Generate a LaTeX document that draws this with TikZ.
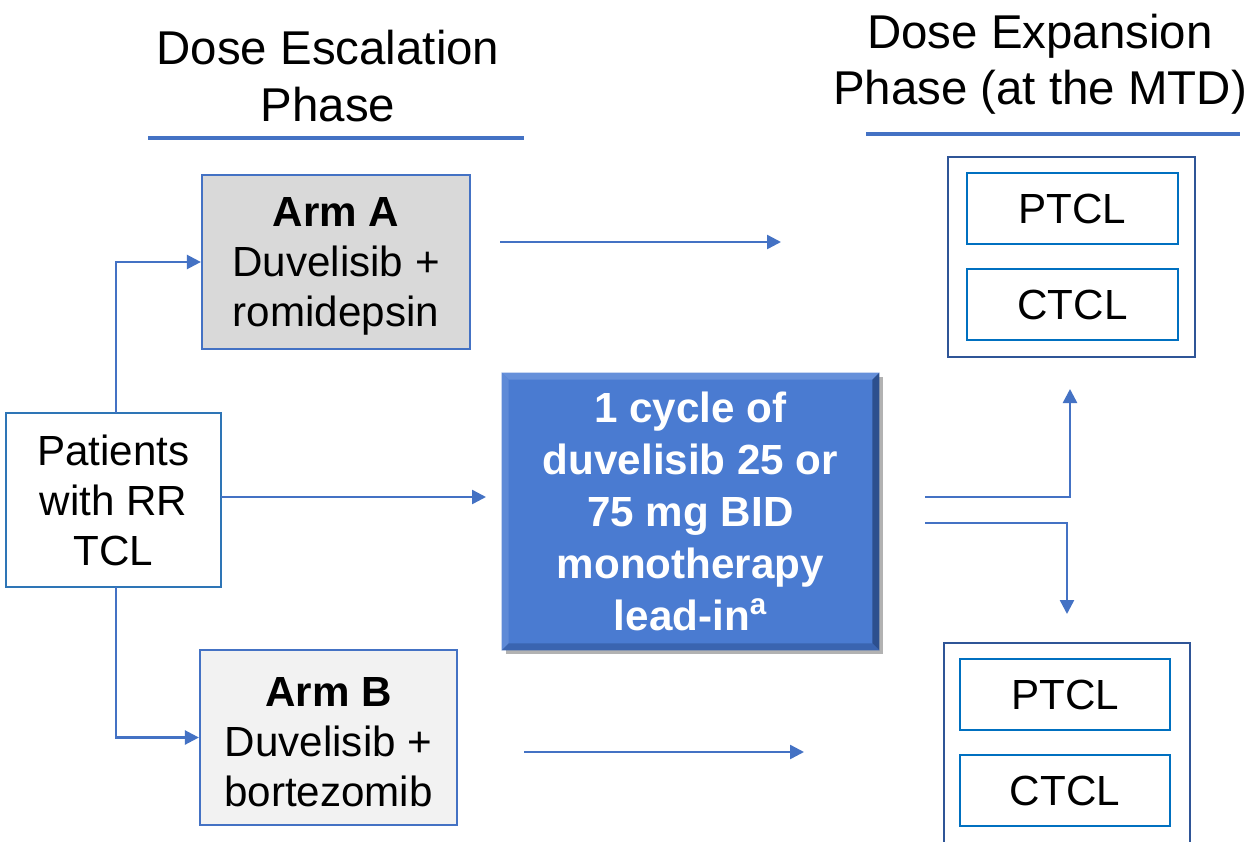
\documentclass[tikz,border=0pt]{standalone}
\usepackage{fontspec}
\setmainfont{Liberation Sans}
\usetikzlibrary{arrows.meta}
\definecolor{lb}{HTML}{4472C4}
\definecolor{grayA}{HTML}{D9D9D9}
\definecolor{grayB}{HTML}{F2F2F2}
\definecolor{patb}{HTML}{2E75B6}
\definecolor{outb}{HTML}{2F5597}
\definecolor{inb}{HTML}{0070C0}
\definecolor{ctrfill}{HTML}{4A7BD1}
\definecolor{bevlight}{HTML}{6690DA}
\definecolor{bevdark}{HTML}{2C4F8E}
\definecolor{bevbot}{HTML}{3A64B0}
\tikzset{
  box/.style={draw=lb, line width=1.3pt, align=center, inner sep=0pt,
    font=\fontsize{24}{28.5}\selectfont},
  outbox/.style={draw=outb, line width=1.6pt, inner sep=0pt},
  inbox/.style={draw=inb, line width=1.1pt, inner sep=0pt, align=center,
    font=\fontsize{24}{28.5}\selectfont},
  head/.style={align=center, font=\fontsize{27}{32}\selectfont},
  uline/.style={draw=lb, line width=1.9pt},
  arr/.style={draw=lb, line width=1.4pt, -{Triangle[length=0.28cm,width=0.28cm]}},
  ctrbox/.style={fill=ctrfill, align=center, inner sep=0pt, text=white,
    font=\fontsize{24}{29.6}\selectfont\bfseries}
}
\newcommand{\topstrut}{\rule{0pt}{21.5pt}}
\begin{document}
\begin{tikzpicture}[x=0.02cm,y=-0.02cm]
\clip (0,0) rectangle (1252,842);
\fill[white] (0,0) rectangle (1252,842);

% headings
\node[head] (h1) at (328,76) {Dose Escalation\\Phase};
\node[head] (h2) at (1040,64) {Dose Expansion\\Phase (at the MTD)};
\coordinate (u1a) at (148,138); \coordinate (u1b) at (524,138);
\coordinate (u2a) at (866,134); \coordinate (u2b) at (1240,134);
\draw[uline] (u1a) -- (u1b);
\draw[uline] (u2a) -- (u2b);

% left boxes
\node[box, fill=grayA, minimum width=5.36cm, minimum height=3.48cm] (armA) at (336,262)
  {\topstrut\textbf{Arm A}\\Duvelisib +\\romidepsin};
\node[box, fill=grayB, minimum width=5.14cm, minimum height=3.5cm] (armB) at (328.5,737.5)
  {\topstrut\textbf{Arm B}\\Duvelisib +\\bortezomib};
\node[box, draw=patb, fill=white, minimum width=4.3cm, minimum height=3.48cm] (pat) at (113.5,500)
  {Patients\\with RR\\TCL};

% center box with bevel and shadow
\fill[black!30] (506,377) rectangle (883,654);
\node[ctrbox, minimum width=7.54cm, minimum height=5.54cm] (ctr) at (690.5,511.5)
  {1 cycle of\\duvelisib 25 or\\75 mg BID\\monotherapy\\lead-in\textsuperscript{a}};
\fill[bevlight] (ctr.north west) -- (ctr.north east) -- ([shift={(-7,7)}]ctr.north east) -- ([shift={(7,7)}]ctr.north west) -- cycle;
\fill[bevlight!70!ctrfill] (ctr.north west) -- ([shift={(7,7)}]ctr.north west) -- ([shift={(7,-7)}]ctr.south west) -- (ctr.south west) -- cycle;
\fill[bevdark] (ctr.north east) -- (ctr.south east) -- ([shift={(-7,-7)}]ctr.south east) -- ([shift={(-7,7)}]ctr.north east) -- cycle;
\fill[bevbot] (ctr.south west) -- ([shift={(7,-7)}]ctr.south west) -- ([shift={(-7,-7)}]ctr.south east) -- (ctr.south east) -- cycle;

% right boxes
\node[outbox, minimum width=4.94cm, minimum height=4cm] (trO) at (1071.5,257) {};
\node[inbox, minimum width=4.22cm, minimum height=1.42cm] (trP) at (1072.5,208.5) {PTCL};
\node[inbox, minimum width=4.22cm, minimum height=1.42cm] (trC) at (1072.5,304.5) {CTCL};
\node[outbox, minimum width=4.92cm, minimum height=4.2cm] (brO) at (1067,748) {};
\node[inbox, minimum width=4.2cm, minimum height=1.42cm] (brP) at (1065,694.5) {PTCL};
\node[inbox, minimum width=4.2cm, minimum height=1.42cm] (brC) at (1065,790.5) {CTCL};

% connectors
\coordinate (pt) at (116,413);
\coordinate (pb) at (116,587);
\draw[arr] (pt) |- (armA.west);
\draw[arr] (pb) |- (armB.west);
\coordinate (pr) at (221,497);
\coordinate (ce) at (486,497);
\draw[arr] (pr) -- (ce);

\coordinate (aS) at (500,242); \coordinate (aE) at (781,242);
\draw[arr] (aS) -- (aE);
\coordinate (bS) at (524,752); \coordinate (bE) at (804,752);
\draw[arr] (bS) -- (bE);

\coordinate (r1s) at (925,497); \coordinate (r1e) at (1070,389);
\draw[arr] (r1s) -| (r1e);
\coordinate (r2s) at (925,523); \coordinate (r2e) at (1067,614);
\draw[arr] (r2s) -| (r2e);
\end{tikzpicture}
\end{document}
